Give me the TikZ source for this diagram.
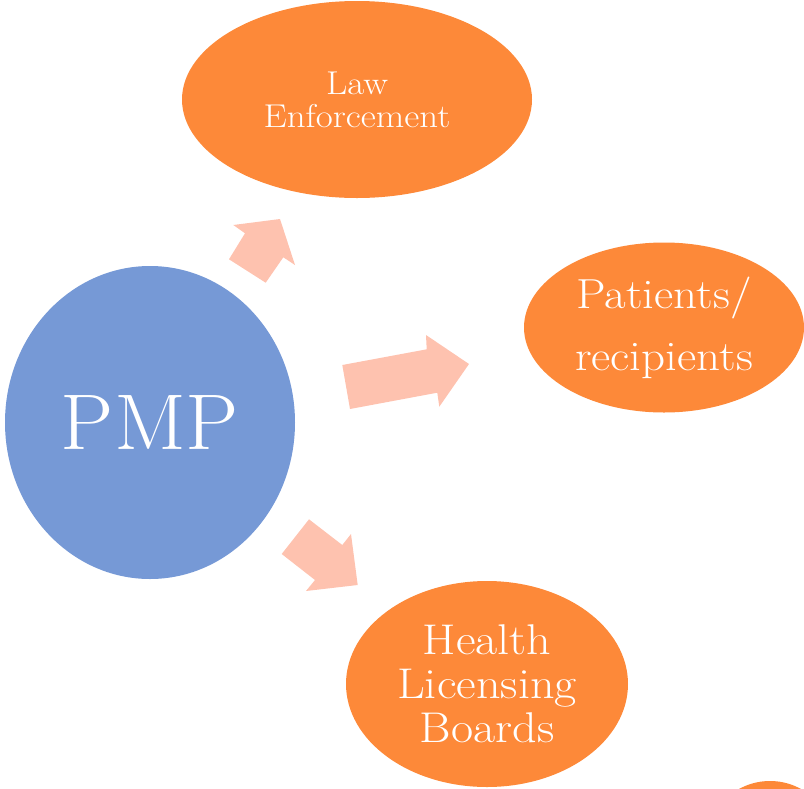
\documentclass[tikz,border=0pt]{standalone}
\usepackage{graphicx}
\usetikzlibrary{shapes.geometric}
\definecolor{nodeorange}{RGB}{253,137,57}
\definecolor{pmpblue}{RGB}{118,153,214}
\definecolor{arrowpeach}{RGB}{254,194,175}
\newcommand\widetxt[1]{\scalebox{1.12}[1]{#1}}
\tikzset{
  blob/.style={ellipse, fill=nodeorange, draw=none, inner sep=0pt, text=white, align=center},
  hub/.style={ellipse, fill=pmpblue, draw=none, inner sep=0pt, text=white, align=center},
  blockarrow/.style={fill=arrowpeach, draw=none}
}
\begin{document}
\begin{tikzpicture}[x=1pt,y=-1pt]
\useasboundingbox (0,0) rectangle (804,788);
% hub
\node[hub, minimum width=290pt, minimum height=313pt,
      font=\fontsize{79}{79}\selectfont] (pmp) at (150,422.5) {\scalebox{1.07}[1]{PMP}};
% targets
\node[blob, minimum width=350pt, minimum height=197pt,
      font=\fontsize{33}{33}\selectfont] (law) at (357,99.5) {\widetxt{Law}\\\widetxt{Enforcement}};
\node[blob, minimum width=280pt, minimum height=170pt,
      font=\fontsize{42}{62}\selectfont] (pat) at (664,327.5) {\widetxt{Patients/}\\\widetxt{recipients}};
\node[blob, minimum width=282pt, minimum height=206pt,
      font=\fontsize{43}{44}\selectfont] (hlb) at (487,684) {\widetxt{Health}\\\widetxt{Licensing}\\\widetxt{Boards}};
\node[blob, minimum width=128pt, minimum height=128pt] (extra) at (770,845) {};
% block arrows
\fill[blockarrow] (229,259.3) -- (245,233.3) -- (233.3,225) -- (280,219)
  -- (295,265) -- (283.3,257.3) -- (265.7,282.7) -- cycle;
\fill[blockarrow] (342.3,365) -- (426.7,349.3) -- (426,335) -- (469,364)
  -- (439.3,406.7) -- (437.3,392.7) -- (350,409) -- cycle;
\fill[blockarrow] (309,519.3) -- (342.3,545) -- (351,534) -- (357.7,585)
  -- (306,591) -- (315,580) -- (281.7,554) -- cycle;
\end{tikzpicture}
\end{document}
